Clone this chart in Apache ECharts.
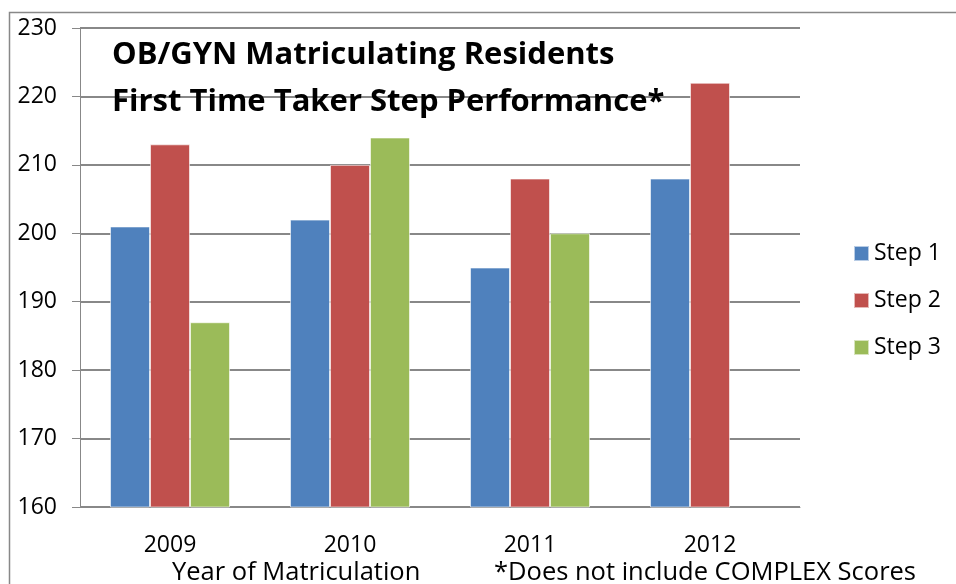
<!DOCTYPE html>
<html>
<head>
<meta charset="utf-8">
<script src="https://cdn.jsdelivr.net/npm/echarts@6/dist/echarts.min.js"></script>
<style>
  html, body { margin: 0; padding: 0; background: #fff; }
  #chart { width: 956px; height: 584px; }
</style>
</head>
<body>
<div id="chart"></div>
<script>
{
    const years = ['2009', '2010', '2011', '2012'];
    const step1 = [201, 202, 195, 208];
    const step2 = [213, 210, 208, 222];
    const step3 = [187, 214, 200, null];
    const yTicks = { min: 160, max: 230, interval: 10 };

    const font = 'Open Sans';
    const dom = document.querySelector('#chart');
    const myChart = echarts.init(dom);

    const bar = (name, data, color) => ({
        name,
        type: 'bar',
        data,
        barWidth: 40,
        barGap: '0%',
        itemStyle: { color, borderColor: 'rgba(255,255,255,0.6)', borderWidth: 1 }
    });

    const option = {
        animation: false,
        title: {
            text: 'OB/GYN Matriculating Residents\nFirst Time Taker Step Performance*',
            left: 112,
            top: 32,
            padding: 0,
            textStyle: {
                fontFamily: font,
                fontWeight: 'bold',
                fontSize: 31,
                lineHeight: 47,
                color: '#000'
            }
        },
        legend: {
            orient: 'vertical',
            left: 853,
            top: 242,
            padding: 0,
            itemWidth: 15,
            itemHeight: 15,
            itemGap: 24,
            icon: 'rect',
            textStyle: { fontFamily: font, fontSize: 23, color: '#000' },
            data: ['Step 1', 'Step 2', 'Step 3']
        },
        graphic: [
            {
                type: 'polyline',
                shape: { points: [[9.5, 584], [9.5, 12.5], [956, 12.5]] },
                style: { stroke: '#888', lineWidth: 1.5, fill: null }
            },
            {
                type: 'text',
                left: 172,
                top: 560,
                style: { text: 'Year of Matriculation', font: '25.5px "Open Sans"', fill: '#000' }
            },
            {
                type: 'text',
                left: 494,
                top: 560,
                style: { text: '*Does not include COMPLEX Scores', font: '25.5px "Open Sans"', fill: '#000' }
            }
        ],
        grid: { left: 80, right: 156, top: 28, bottom: 77 },
        xAxis: {
            type: 'category',
            data: years,
            axisLine: { lineStyle: { color: '#888', width: 1 } },
            axisTick: { length: 7, lineStyle: { color: '#888' } },
            axisLabel: { fontFamily: font, fontSize: 23, color: '#000', margin: 27 }
        },
        yAxis: {
            type: 'value',
            min: yTicks.min,
            max: yTicks.max,
            interval: yTicks.interval,
            axisLine: { show: true, lineStyle: { color: '#888', width: 1 } },
            axisTick: { show: true, length: 8, lineStyle: { color: '#888' } },
            axisLabel: { fontFamily: font, fontSize: 23, color: '#000', margin: 23 },
            splitLine: { lineStyle: { color: '#888', width: 2 } }
        },
        series: [
            bar('Step 1', step1, '#4f81bd'),
            bar('Step 2', step2, '#c0504d'),
            bar('Step 3', step3, '#9bbb59')
        ]
    };
    myChart.setOption(option);
}
</script>
</body>
</html>
